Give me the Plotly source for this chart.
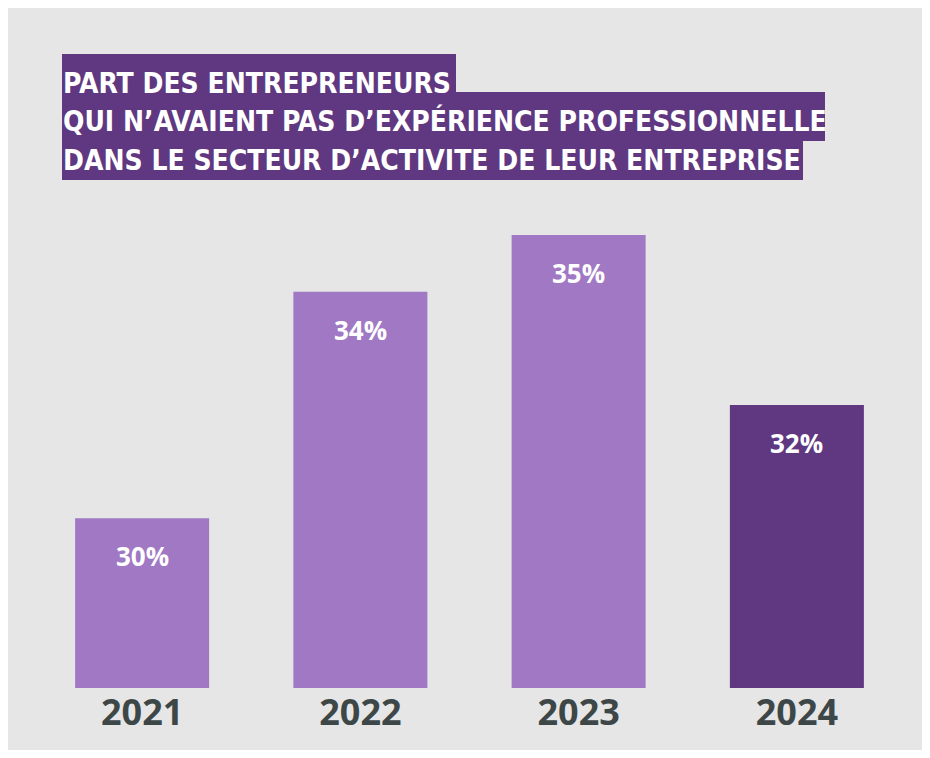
"""Part des entrepreneurs sans expérience dans le secteur — barres."""

import plotly.graph_objects as go

YEARS = ["2021", "2022", "2023", "2024"]
VALUES = [30, 34, 35, 32]
TITLE_LINES = [
    "PART DES ENTREPRENEURS",
    "QUI N’AVAIENT PAS D’EXPÉRIENCE PROFESSIONNELLE",
    "DANS LE SECTEUR D’ACTIVITE DE LEUR ENTREPRISE",
]

LIGHT = "#a078c4"
DARK = "#5f3881"
GREY_BG = "#e6e6e6"
AXIS_TEXT = "#3e4748"

# la page ajoute une marge de 8 px autour du graphique
OFF = 8
W, H = 914, 742
L, R, T, B = 25, 16, 227, 62
PW, PH = W - L - R, H - T - B


def px_x(x):
    """position écran -> coordonnée papier"""
    return (x - OFF - L) / PW


def px_y(y):
    return (H - B - (y - OFF)) / PH


bar_colors = [DARK if y == YEARS[-1] else LIGHT for y in YEARS]

fig = go.Figure(
    go.Bar(
        x=YEARS,
        y=VALUES,
        marker=dict(color=bar_colors, line_width=0),
        hovertemplate="%{x}: %{y}%<extra></extra>",
    )
)

# valeurs dans les barres
for i, val in enumerate(VALUES):
    fig.add_annotation(
        x=i,
        y=val,
        yshift=-38,
        text=f"{val}%",
        showarrow=False,
        font=dict(family="Open Sans", size=26, color="white", weight="bold"),
    )

# bandeaux du titre
title_boxes = [(54, 92, 456), (92, 141, 825), (141, 180, 803)]
title_centers = [83, 121, 160]
for (top, bottom, right), line, cy in zip(title_boxes, TITLE_LINES, title_centers):
    fig.add_shape(
        type="rect", xref="paper", yref="paper",
        x0=px_x(62), x1=px_x(right), y0=px_y(bottom), y1=px_y(top),
        fillcolor=DARK, line_width=0, layer="above",
    )
    fig.add_annotation(
        xref="paper", yref="paper",
        x=px_x(61), y=px_y(cy),
        xanchor="left", yanchor="middle",
        text=line,
        showarrow=False,
        font=dict(family="DejaVu Sans Condensed, Roboto", size=28, color="white", weight="bold"),
    )

fig.update_layout(
    width=W,
    height=H,
    margin=dict(l=L, r=R, t=T, b=B, autoexpand=False),
    paper_bgcolor=GREY_BG,
    plot_bgcolor="rgba(0,0,0,0)",
    bargap=0.386,
    showlegend=False,
)
fig.update_xaxes(
    type="category",
    range=[-0.5, len(YEARS) - 0.5],
    showgrid=False,
    showline=False,
    zeroline=False,
    ticks="",
    tickfont=dict(family="Open Sans", size=36, color=AXIS_TEXT, weight="bold"),
)
fig.update_yaxes(
    range=[27, 35],
    showgrid=False,
    zeroline=False,
    showticklabels=False,
)

fig.write_html("out.html")
